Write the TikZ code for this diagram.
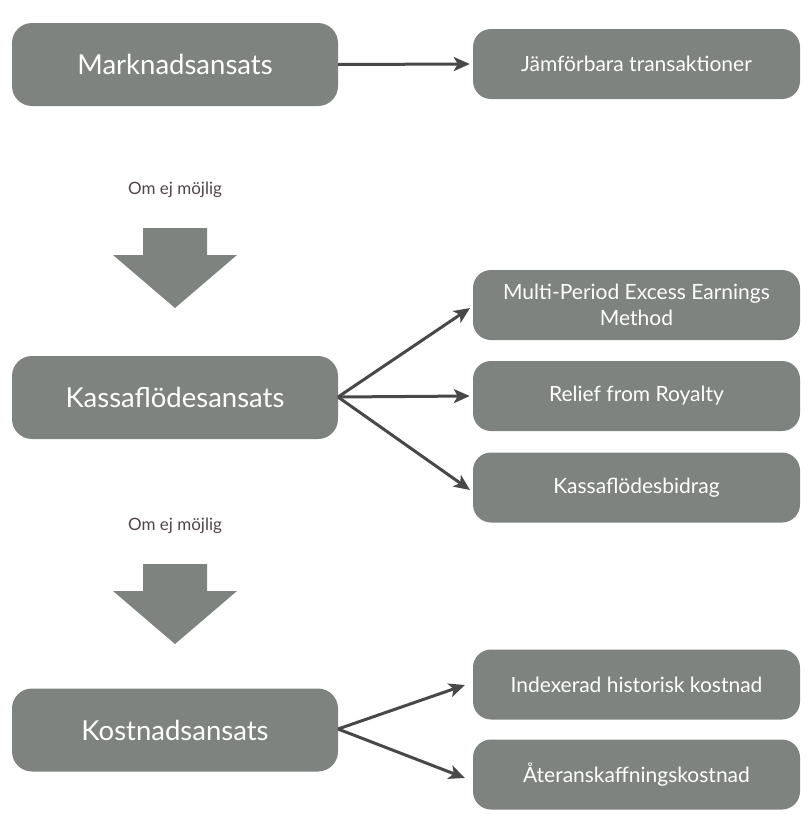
\documentclass[tikz,border=0pt]{standalone}
\usepackage{fontspec}
\setmainfont{Lato}
\usetikzlibrary{arrows.meta}
\definecolor{boxgray}{RGB}{127,131,128}
\definecolor{arrgray}{RGB}{72,72,72}
\definecolor{notegray}{RGB}{80,70,72}
\tikzset{
  bigbox/.style={fill=boxgray, rounded corners=20pt, minimum width=326pt, minimum height=83pt, text=white, font=\fontsize{27.5pt}{32pt}\selectfont, inner sep=0pt},
  smallbox/.style={fill=boxgray, rounded corners=18pt, minimum width=327pt, minimum height=70pt, text=white, font=\fontsize{21pt}{26pt}\selectfont, align=center, inner sep=0pt},
  conn/.style={draw=arrgray, line width=3pt, -{Stealth[length=16pt,width=14pt,inset=4pt]}},
  note/.style={text=notegray, font=\fontsize{17pt}{20pt}\selectfont},
  downarrow/.style={fill=boxgray}
}
\begin{document}
\begin{tikzpicture}[x=1pt,y=-1pt]
\useasboundingbox (0,0) rectangle (811,828);
\node[bigbox] (m) at (175,64.5) {Marknadsansats};
\node[smallbox] (j) at (636.5,64) {Jämförbara transaktioner};
\draw[conn] (m.east) -- ([xshift=-3pt]j.west);

\node[note] (n1) at (175,190) {Om ej möjlig};
\fill[downarrow] (143,228) -- (207,228) -- (207,255) -- (237,255) -- (175,308) -- (113,255) -- (143,255) -- cycle;

\node[bigbox] (k) at (175,397.5) {Kassaflödesansats};
\node[smallbox] (mp) at (636.5,305) {Multi-Period Excess Earnings\\Method};
\node[smallbox] (r) at (636.5,396) {Relief from Royalty};
\node[smallbox] (kb) at (636.5,487.5) {Kassaflödesbidrag};
\coordinate (kout) at (338,397);
\draw[conn] (kout) -- (470,308);
\draw[conn] (kout) -- ([xshift=-3pt]r.west);
\draw[conn] (kout) -- (470,490);

\node[note] (n2) at (175,526) {Om ej möjlig};
\fill[downarrow] (143,564) -- (207,564) -- (207,591) -- (237,591) -- (175,644) -- (113,591) -- (143,591) -- cycle;

\node[bigbox] (c) at (175,730) {Kostnadsansats};
\node[smallbox] (ih) at (636.5,684.5) {Indexerad historisk kostnad};
\node[smallbox] (ak) at (636.5,774.5) {Återanskaffningskostnad};
\coordinate (cout) at (338,729);
\draw[conn] (cout) -- (465,685);
\draw[conn] (cout) -- (465,778);
\end{tikzpicture}
\end{document}
